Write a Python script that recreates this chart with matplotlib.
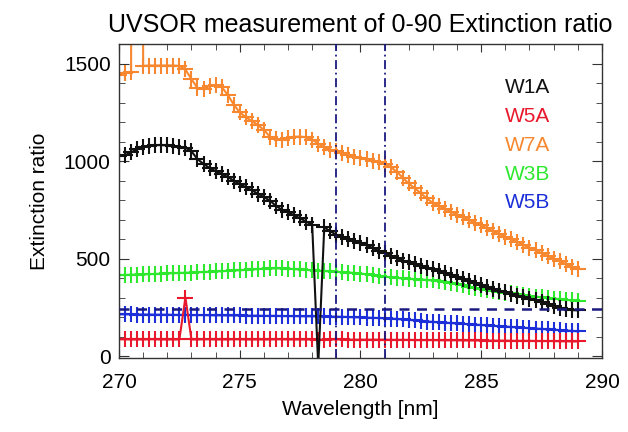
import numpy as np
import matplotlib
matplotlib.use("Agg")
import matplotlib.pyplot as plt
from matplotlib.ticker import MultipleLocator

plt.rcParams['font.family'] = ['Liberation Sans', 'DejaVu Sans']

# wavelength grid, 0.25 nm steps from 270 to 289 nm
wavelength = np.arange(270.0, 289.01, 0.25)

w1a = [1025, 1030, 1045, 1060, 1070, 1078, 1082, 1082, 1080, 1077, 1073, 1068,
       1050, 1010, 985, 965, 948, 935, 918, 900, 882, 866, 850, 833,
       815, 797, 770, 750, 738, 722, 706, 690, 672, -50, 660, 640,
       622, 612, 600, 590, 578, 568, 555, 540, 528, 515, 502, 490,
       480, 470, 460, 452, 445, 435, 425, 415, 405, 395, 384, 374,
       364, 355, 345, 335, 326, 318, 310, 302, 295, 285, 275, 265,
       256, 248, 240, 236, 234]

w5a = [86, 86, 85, 85, 85, 86, 86, 85, 85, 85, 85, 300,
       85, 85, 86, 86, 85, 85, 85, 86, 86, 85, 85, 85,
       85, 85, 86, 86, 85, 85, 85, 85, 85, 84, 84, 85,
       85, 85, 84, 84, 84, 84, 84, 84, 84, 83, 83, 83,
       83, 82, 82, 82, 82, 81, 81, 81, 81, 80, 80, 80,
       80, 79, 79, 79, 79, 78, 78, 78, 78, 77, 77, 77,
       77, 76, 76, 75, 75]

w7a = [1440, 1452, 1455, 20000, 1488, 1490, 1490, 1490, 1490, 1490, 1488, 1470,
       1420, 1375, 1370, 1385, 1390, 1380, 1340, 1290, 1250, 1225, 1205, 1185,
       1160, 1125, 1112, 1110, 1118, 1125, 1125, 1122, 1110, 1090, 1070, 1058,
       1050, 1040, 1030, 1022, 1015, 1008, 1000, 993, 985, 970, 945, 915,
       885, 860, 835, 808, 785, 770, 755, 740, 725, 712, 698, 684,
       670, 655, 640, 625, 612, 598, 585, 570, 556, 542, 528, 514,
       500, 486, 472, 458, 444]

w3b = [415, 416, 417, 418, 419, 420, 421, 422, 424, 425, 426, 427,
       428, 430, 431, 432, 434, 435, 437, 439, 440, 442, 444, 446,
       448, 449, 450, 449, 448, 446, 444, 442, 440, 438, 436, 434,
       432, 430, 428, 426, 423, 419, 415, 411, 407, 404, 401, 398,
       396, 394, 392, 390, 388, 384, 379, 374, 368, 362, 356, 350,
       345, 340, 335, 330, 325, 321, 317, 313, 309, 305, 301, 298,
       295, 292, 289, 286, 283]

w5b = [214, 214, 214, 213, 213, 213, 212, 212, 212, 211, 211, 211,
       210, 210, 210, 209, 209, 209, 208, 208, 208, 207, 207, 207,
       206, 206, 206, 205, 205, 205, 204, 204, 204, 203, 203, 202,
       202, 201, 200, 199, 198, 197, 196, 195, 194, 192, 190, 188,
       186, 183, 180, 177, 175, 173, 171, 169, 167, 165, 163, 161,
       159, 157, 155, 153, 151, 149, 147, 145, 143, 141, 139, 137,
       135, 133, 131, 129, 127]

series_names = ['W1A', 'W5A', 'W7A', 'W3B', 'W5B']
series_colors = ['#111111', '#e8192c', '#f7882f', '#2ee82e', '#1c2fd8']

window_lines = [279.0, 281.0]
threshold = 240

fig = plt.figure(figsize=(6.28, 4.32), dpi=100)
ax = fig.add_axes([0.1895, 0.1713, 0.769, 0.7267])

data = dict(zip(series_names, [w1a, w5a, w7a, w3b, w5b]))
colors = dict(zip(series_names, series_colors))

# draw order: blue, red, green, orange, black on top
for name in ['W5B', 'W5A', 'W3B', 'W7A', 'W1A']:
    ax.plot(wavelength, data[name], color=colors[name], lw=1.5,
            marker='+', markersize=12, markeredgewidth=1.5)

for xv in window_lines:
    ax.axvline(xv, color='#1a1a80', lw=1.3, linestyle=(0, (5, 2, 1, 2)), zorder=5)
ax.axhline(threshold, color='#1a1a80', lw=1.8, linestyle=(0, (4, 3)), zorder=5)

ax.set_xlim(270, 290)
ax.set_ylim(-10, 1600)
ax.xaxis.set_major_locator(MultipleLocator(5))
ax.xaxis.set_minor_locator(MultipleLocator(1))
ax.yaxis.set_major_locator(MultipleLocator(500))
ax.yaxis.set_minor_locator(MultipleLocator(100))
ax.tick_params(which='both', direction='in', top=True, right=True,
               labelsize=15, color='#333333')
ax.tick_params(axis='x', which='major', length=6, pad=11)
ax.tick_params(axis='x', which='minor', length=4)
ax.tick_params(axis='y', which='major', length=7, pad=6)
ax.tick_params(axis='y', which='minor', length=4)
for sp in ax.spines.values():
    sp.set_color('#333333')
    sp.set_linewidth(1.0)

ax.set_title('UVSOR measurement of 0-90 Extinction ratio', fontsize=18, pad=9)
ax.set_xlabel('Wavelength [nm]', fontsize=15)
ax.set_ylabel('Extinction ratio', fontsize=15)
ax.xaxis.set_label_coords(0.5, -0.135)
ax.yaxis.set_label_coords(-0.145, 0.5)

for i, name in enumerate(series_names):
    ax.text(0.799, 0.863 - 0.0923 * i, name, color=colors[name], fontsize=15,
            transform=ax.transAxes, ha='left', va='center')

fig.savefig('out.png', dpi=100)
